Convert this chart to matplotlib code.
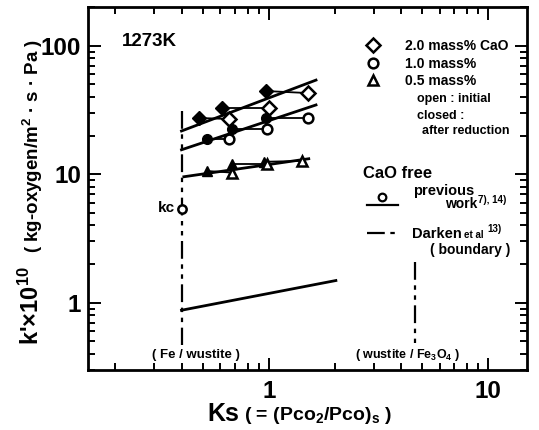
import matplotlib
matplotlib.use("Agg")
import matplotlib.pyplot as plt
import numpy as np

plt.rcParams['font.family'] = ['Liberation Sans', 'DejaVu Sans']
plt.rcParams['font.weight'] = 'bold'
plt.rcParams['mathtext.fontset'] = 'custom'
plt.rcParams['mathtext.rm'] = 'Liberation Sans:bold'
plt.rcParams['mathtext.it'] = 'Liberation Sans:bold'
plt.rcParams['mathtext.bf'] = 'Liberation Sans:bold'
plt.rcParams['mathtext.default'] = 'regular'

# ---- data ----
# 2.0 mass% CaO
ks_20_closed = [0.48, 0.61, 0.97]
k_20_closed = [27.4, 32.8, 44.4]
ks_20_open = [0.66, 1.00, 1.51]
k_20_open = [26.9, 32.8, 42.8]
# 1.0 mass% CaO
ks_10_closed = [0.52, 0.68, 0.97]
k_10_closed = [18.8, 22.5, 27.4]
ks_10_open = [0.66, 0.98, 1.51]
k_10_open = [18.8, 22.5, 27.4]
# 0.5 mass% CaO
ks_05_closed = [0.52, 0.68, 0.95]
k_05_closed = [10.6, 12.0, 12.5]
ks_05_open = [0.68, 0.98, 1.42]
k_05_open = [10.3, 12.0, 12.7]

# fitted lines
fit_20_ks = [0.40, 1.64]
fit_20_k = [21.7, 54.0]
fit_10_ks = [0.40, 1.64]
fit_10_k = [15.5, 34.6]
fit_05_ks = [0.41, 1.52]
fit_05_k = [9.56, 13.2]

# CaO free (previous work)
free_ks = [0.40, 2.02]
free_k = [0.875, 1.49]
kc_ks = [0.40]
kc_k = [5.4]

# Darken boundaries
fe_wus_ks = [0.40, 0.40]
fe_wus_k = [31.0, 0.47]
wus_mag_ks = [4.64, 4.64]
wus_mag_k = [2.06, 0.49]

xticks = [1, 10]
xticklabels = ['1', '10']
yticks = [1, 10, 100]
yticklabels = ['1', '10', '100']

W, H = 539, 430
fig = plt.figure(figsize=(W / 100, H / 100), dpi=100)
L, R, T, B = 88, 527, 7, 370
ax = fig.add_axes([L / W, 1 - B / H, (R - L) / W, (B - T) / H])
ax.set_xscale('log')
ax.set_yscale('log')
ax.set_xlim(0.15, 15)
ax.set_ylim(0.3, 200)

dash = (0, (8, 2.5, 2, 2.5, 2, 2.5))
ax.plot(fe_wus_ks, fe_wus_k, color='black', lw=1.6, linestyle=dash, zorder=2)
ax.plot(wus_mag_ks, wus_mag_k, color='black', lw=1.6, linestyle=dash, zorder=2)

lw_fit = 2.0
for xs, ys in [(fit_20_ks, fit_20_k), (fit_10_ks, fit_10_k), (fit_05_ks, fit_05_k), (free_ks, free_k)]:
    ax.plot(xs, ys, color='black', lw=lw_fit, zorder=3)

# connectors closed -> open
for xc, yc, xo, yo in [(ks_20_closed, k_20_closed, ks_20_open, k_20_open),
                       (ks_10_closed, k_10_closed, ks_10_open, k_10_open),
                       (ks_05_closed, k_05_closed, ks_05_open, k_05_open)]:
    for a, b, c, d in zip(xc, yc, xo, yo):
        ax.plot([a, c], [b, d], color='black', lw=1.3, zorder=3)

mew = 1.8
ax.plot(ks_20_closed, k_20_closed, 'D', ms=7, color='black', mec='black', zorder=5, ls='none')
ax.plot(ks_20_open, k_20_open, 'D', ms=7, mfc='white', mec='black', mew=mew, zorder=5, ls='none')
ax.plot(ks_10_closed, k_10_closed, 'o', ms=7, color='black', zorder=5, ls='none')
ax.plot(ks_10_open, k_10_open, 'o', ms=7, mfc='white', mec='black', mew=mew, zorder=5, ls='none')
ax.plot(ks_05_closed, k_05_closed, '^', ms=7.5, color='black', zorder=5, ls='none')
ax.plot(ks_05_open, k_05_open, '^', ms=7.5, mfc='white', mec='black', mew=mew, zorder=5, ls='none')
ax.plot(kc_ks, kc_k, 'o', ms=6, mfc='white', mec='black', mew=mew, zorder=6, ls='none')

ax.set_xticks(xticks)
ax.set_xticklabels(xticklabels)
ax.set_yticks(yticks)
ax.set_yticklabels(yticklabels)
ax.tick_params(which='both', direction='in', top=True, right=True, width=1.4)
ax.tick_params(which='major', length=9, labelsize=17.5)
ax.tick_params(axis='x', which='major', pad=7)
ax.tick_params(axis='y', which='major', pad=5)
ax.tick_params(which='minor', length=5)
for s in ax.spines.values():
    s.set_linewidth(2.0)

def fx(px):
    return px / W

def fy(py):
    return 1 - py / H

def ftext(px, py, s, size, ha='left', va='center', **kw):
    fig.text(fx(px), fy(py), s, fontsize=size, ha=ha, va=va, fontweight='bold', **kw)

# axis labels
ftext(207, 414, 'Ks', 18)
ftext(244, 415, r'( = (Pco$_2$/Pco)$_s$ )', 14)
fig.text(fx(31), fy(345), r"k'$\times$10$^{10}$", fontsize=17, rotation=90, ha='center', va='bottom', fontweight='bold')
fig.text(fx(33), fy(253), r"( kg-oxygen/m$^2$ · s · Pa )", fontsize=13.5, rotation=90, ha='center', va='bottom', fontweight='bold')

ftext(122, 42, '1273K', 13.5)
ftext(166, 208, 'kc', 11, ha='center')
ftext(196, 355, '( Fe / wustite )', 9.5, ha='center')
ftext(408, 355, r'( wustite / Fe$_3$O$_4$ )', 9, ha='center')

# legend
def fmark(px, py, marker, ms, **kw):
    ax.plot([fx(px)], [fy(py)], marker=marker, ms=ms, transform=fig.transFigure, clip_on=False, ls='none', **kw)

fmark(373, 45, 'D', 7, mfc='white', mec='black', mew=mew)
fmark(373, 63, 'o', 7, mfc='white', mec='black', mew=mew)
fmark(373, 80, '^', 7.5, mfc='white', mec='black', mew=mew)
ftext(405, 46, '2.0 mass% CaO', 10)
ftext(405, 64, '1.0 mass%', 10)
ftext(405, 81, '0.5 mass%', 10)
ftext(417, 99, 'open : initial', 9)
ftext(417, 116, 'closed :', 9)
ftext(422, 131, 'after reduction', 9)
ftext(363, 173, 'CaO free', 12)
ftext(413, 191, 'previous', 10.5)
ftext(445, 204, 'work', 10)
ftext(478, 200, '7), 14)', 7)
ax.plot([fx(367), fx(398)], [fy(205), fy(205)], color='black', lw=1.6, transform=fig.transFigure, clip_on=False)
fmark(382, 197, 'o', 5.5, mfc='white', mec='black', mew=1.6)
ax.plot([fx(367), fx(398)], [fy(233), fy(233)], color='black', lw=1.6, linestyle=dash, transform=fig.transFigure, clip_on=False)
ftext(412, 234, 'Darken', 10.5)
ftext(464, 235, 'et al', 7)
ftext(487, 229, '13)', 7)
ftext(430, 250, '( boundary )', 10)

fig.savefig('out.png', dpi=100)
